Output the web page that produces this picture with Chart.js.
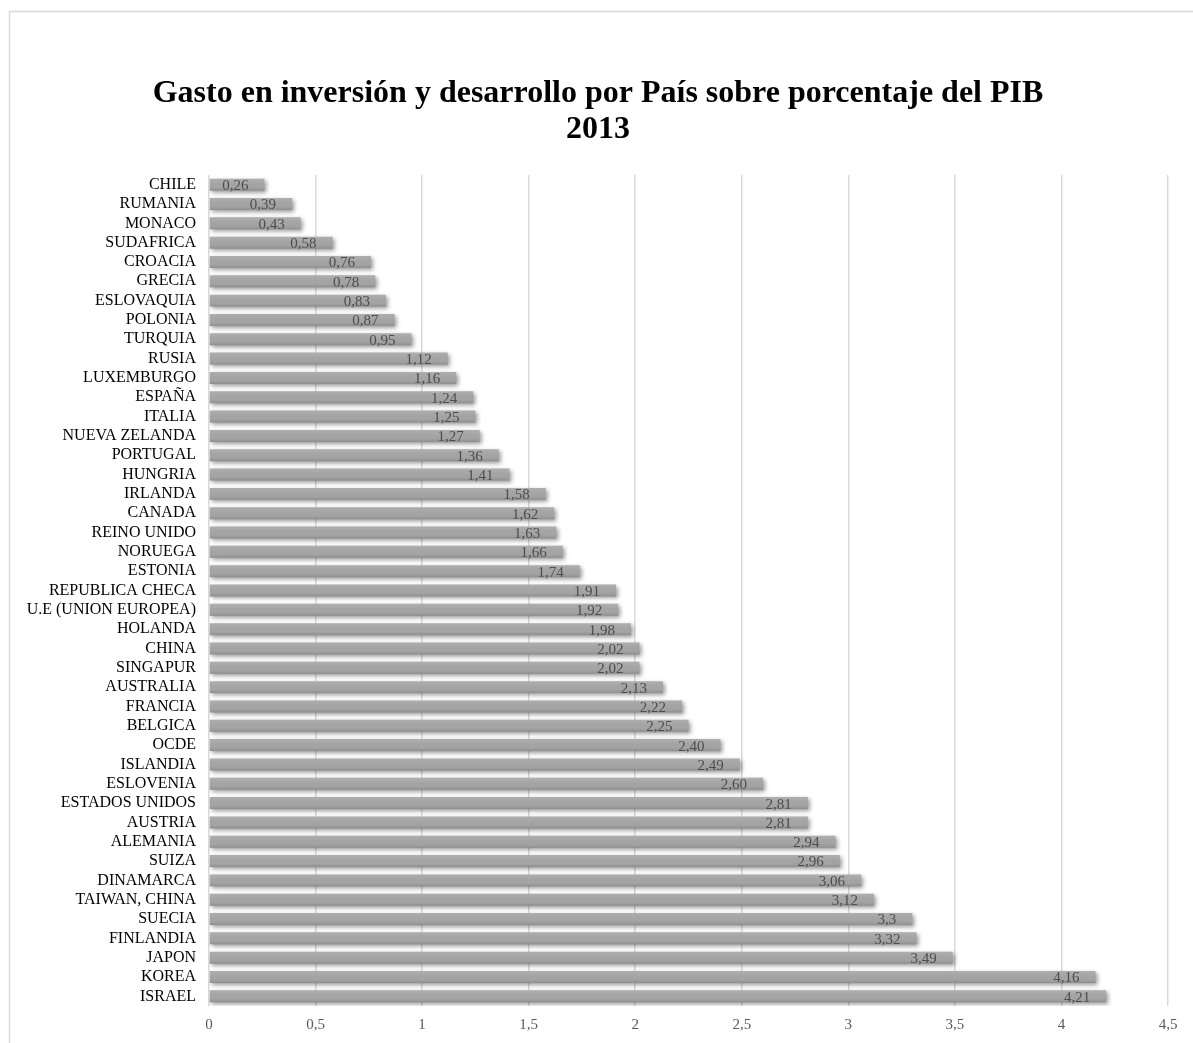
<!DOCTYPE html>
<html>
<head>
<meta charset="utf-8">
<script src="https://cdn.jsdelivr.net/npm/chart.js@4/dist/chart.umd.min.js"></script>
<style>
html,body{margin:0;padding:0;background:#fff;}
#wrap{width:1193px;height:1043px;position:relative;}
</style>
</head>
<body>
<div id="wrap"><canvas id="c"></canvas></div>
<script>
const categories = ["CHILE","RUMANIA","MONACO","SUDAFRICA","CROACIA","GRECIA","ESLOVAQUIA","POLONIA","TURQUIA","RUSIA","LUXEMBURGO","ESPAÑA","ITALIA","NUEVA ZELANDA","PORTUGAL","HUNGRIA","IRLANDA","CANADA","REINO UNIDO","NORUEGA","ESTONIA","REPUBLICA CHECA","U.E (UNION EUROPEA)","HOLANDA","CHINA","SINGAPUR","AUSTRALIA","FRANCIA","BELGICA","OCDE","ISLANDIA","ESLOVENIA","ESTADOS UNIDOS","AUSTRIA","ALEMANIA","SUIZA","DINAMARCA","TAIWAN, CHINA","SUECIA","FINLANDIA","JAPON","KOREA","ISRAEL"];
const values = [0.26,0.39,0.43,0.58,0.76,0.78,0.83,0.87,0.95,1.12,1.16,1.24,1.25,1.27,1.36,1.41,1.58,1.62,1.63,1.66,1.74,1.91,1.92,1.98,2.02,2.02,2.13,2.22,2.25,2.40,2.49,2.60,2.81,2.81,2.94,2.96,3.06,3.12,3.3,3.32,3.49,4.16,4.21];
const valueLabels = ["0,26","0,39","0,43","0,58","0,76","0,78","0,83","0,87","0,95","1,12","1,16","1,24","1,25","1,27","1,36","1,41","1,58","1,62","1,63","1,66","1,74","1,91","1,92","1,98","2,02","2,02","2,13","2,22","2,25","2,40","2,49","2,60","2,81","2,81","2,94","2,96","3,06","3,12","3,3","3,32","3,49","4,16","4,21"];
const xTicks = {min:0, max:4.5, step:0.5};
const titleLines = ["Gasto en inversión y desarrollo por País sobre porcentaje del PIB","2013"];

const FONT = "'Liberation Serif','Times New Roman',serif";

const framePlugin = {
  id:'frame',
  beforeDraw(chart){
    const ctx = chart.ctx;
    ctx.save();
    ctx.fillStyle = '#fff';
    ctx.fillRect(0,0,chart.width,chart.height);
    ctx.strokeStyle = '#d9d9d9';
    ctx.lineWidth = 1.5;
    ctx.strokeRect(9.5,11.5,chart.width+20,chart.height+20);
    // title
    ctx.fillStyle = '#000';
    ctx.font = "bold 32px " + FONT;
    ctx.textAlign = 'center';
    ctx.textBaseline = 'alphabetic';
    ctx.fillText(titleLines[0], 598, 102);
    ctx.fillText(titleLines[1], 598, 138);
    ctx.restore();
  }
};
const shadowPlugin = {
  id:'barShadow',
  beforeDatasetsDraw(chart){
    const ctx = chart.ctx;
    ctx.save();
    ctx.shadowColor = 'rgba(0,0,0,0.4)';
    ctx.shadowBlur = 4;
    ctx.shadowOffsetX = 2;
    ctx.shadowOffsetY = 2;
  },
  afterDatasetsDraw(chart){
    const ctx = chart.ctx;
    ctx.restore();
    const meta = chart.getDatasetMeta(0);
    ctx.save();
    meta.data.forEach((bar)=>{
      const p = bar.getProps(['x','y','base','height']);
      const top = p.y - p.height/2, bot = p.y + p.height/2;
      const g = ctx.createLinearGradient(0, top, 0, bot);
      g.addColorStop(0, 'rgba(255,255,255,0.12)');
      g.addColorStop(0.5, 'rgba(255,255,255,0)');
      g.addColorStop(1, 'rgba(0,0,0,0.14)');
      ctx.fillStyle = g;
      ctx.fillRect(p.base, top, p.x - p.base, p.height);
    });
    ctx.font = "15px " + FONT;
    ctx.fillStyle = '#4d4d4d';
    ctx.textAlign = 'right';
    ctx.textBaseline = 'middle';
    meta.data.forEach((bar,i)=>{
      ctx.fillText(valueLabels[i], bar.x - 16, bar.y + 1.5);
    });
    ctx.restore();
  }
};

new Chart(document.getElementById('c'), {
  type:'bar',
  data:{
    labels:categories,
    datasets:[{
      data:values,
      backgroundColor:'#a3a3a3',
      borderWidth:0,
      categoryPercentage:1,
      barPercentage:0.62
    }]
  },
  options:{
    indexAxis:'y',
    responsive:true,
    maintainAspectRatio:false,
    animation:false,
    layout:{padding:{left:0,right:25,top:175,bottom:0}},
    plugins:{
      legend:{display:false},
      tooltip:{enabled:false},
      title:{display:false}
    },
    scales:{
      x:{
        min:xTicks.min, max:xTicks.max,
        grid:{color:'#d9d9d9',lineWidth:1.5,drawTicks:false},
        border:{display:false},
        ticks:{stepSize:xTicks.step,color:'#595959',font:{family:FONT,size:15},padding:10,
          callback:(v)=>String(Math.round(v*10)/10).replace('.',',')},
        afterFit(s){ s.height = 37; }
      },
      y:{
        grid:{display:false},
        border:{display:false},
        ticks:{color:'#000',font:{family:FONT,size:16},padding:5,autoSkip:false},
        afterFit(s){ s.width = 209; }
      }
    }
  },
  plugins:[framePlugin, shadowPlugin]
});
</script>
</body>
</html>
